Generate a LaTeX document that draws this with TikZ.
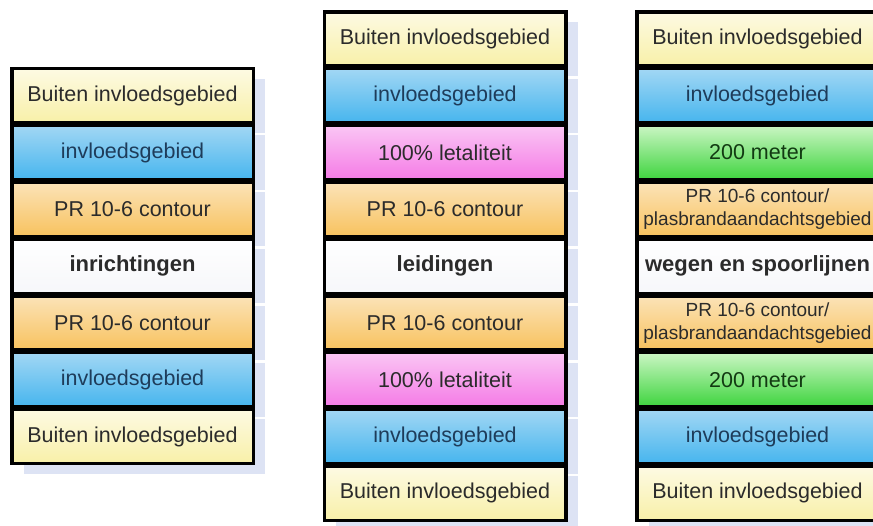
\documentclass[tikz,border=0pt]{standalone}
\usepackage{fontspec}
\setmainfont{Liberation Sans}
\usepackage{xcolor}
\usetikzlibrary{positioning, shadows}

\definecolor{buitenA}{HTML}{FDFAE3}
\definecolor{buitenB}{HTML}{F8F0A8}
\definecolor{blueA}{HTML}{A2D7F4}
\definecolor{blueB}{HTML}{46B5EE}
\definecolor{orangeA}{HTML}{FBE3B8}
\definecolor{orangeB}{HTML}{F8C25E}
\definecolor{pinkA}{HTML}{FAC6F4}
\definecolor{pinkB}{HTML}{F57BE6}
\definecolor{greenA}{HTML}{CBF6C4}
\definecolor{greenB}{HTML}{3ED43E}
\definecolor{whiteB}{HTML}{F6F7FA}
\definecolor{shadowblue}{HTML}{DDE3F4}
\definecolor{textgrey}{HTML}{2B2B2B}
\definecolor{textblue}{HTML}{1E3C5A}
\definecolor{textgreen}{HTML}{123A12}

\begin{document}
\begin{tikzpicture}[node distance=56.8pt,
  zone/.style={draw=black, line width=3.5pt, minimum width=241.5pt,
    minimum height=54.3pt, inner sep=0pt, outer sep=0pt, align=center,
    font=\fontsize{21.5}{25}\selectfont, text=textgrey,
    drop shadow={shadow xshift=12pt, shadow yshift=-10pt,
      fill=shadowblue, opacity=1}},
  buiten/.style={zone, top color=buitenA, bottom color=buitenB},
  invloed/.style={zone, top color=blueA, bottom color=blueB, text=textblue},
  contour/.style={zone, top color=orangeA, bottom color=orangeB},
  plasbrand/.style={contour, font=\fontsize{19}{23}\selectfont},
  letaal/.style={zone, top color=pinkA, bottom color=pinkB},
  meter/.style={zone, top color=greenA, bottom color=greenB, text=textgreen},
  object/.style={zone, top color=white, bottom color=whiteB,
    font=\fontsize{22}{25}\selectfont\bfseries}]
  \path[use as bounding box, clip] (0,0) rectangle (873pt,-525pt);

  \node[buiten] (l1) at (132.5pt,-95.7pt) {Buiten invloedsgebied};
  \node[invloed] (l2) [below of=l1] {invloedsgebied};
  \node[contour] (l3) [below of=l2] {PR 10-6 contour};
  \node[object] (l4) [below of=l3] {inrichtingen};
  \node[contour] (l5) [below of=l4] {PR 10-6 contour};
  \node[invloed] (l6) [below of=l5] {invloedsgebied};
  \node[buiten] (l7) [below of=l6] {Buiten invloedsgebied};

  \node[buiten] (m1) at (445pt,-38.9pt) {Buiten invloedsgebied};
  \node[invloed] (m2) [below of=m1] {invloedsgebied};
  \node[letaal] (m3) [below of=m2] {100\% letaliteit};
  \node[contour] (m4) [below of=m3] {PR 10-6 contour};
  \node[object] (m5) [below of=m4] {leidingen};
  \node[contour] (m6) [below of=m5] {PR 10-6 contour};
  \node[letaal] (m7) [below of=m6] {100\% letaliteit};
  \node[invloed] (m8) [below of=m7] {invloedsgebied};
  \node[buiten] (m9) [below of=m8] {Buiten invloedsgebied};

  \node[buiten] (r1) at (757.5pt,-38.9pt) {Buiten invloedsgebied};
  \node[invloed] (r2) [below of=r1] {invloedsgebied};
  \node[meter] (r3) [below of=r2] {200 meter};
  \node[plasbrand] (r4) [below of=r3] {PR 10-6 contour/\\plasbrandaandachtsgebied};
  \node[object] (r5) [below of=r4] {wegen en spoorlijnen};
  \node[plasbrand] (r6) [below of=r5] {PR 10-6 contour/\\plasbrandaandachtsgebied};
  \node[meter] (r7) [below of=r6] {200 meter};
  \node[invloed] (r8) [below of=r7] {invloedsgebied};
  \node[buiten] (r9) [below of=r8] {Buiten invloedsgebied};
\end{tikzpicture}
\end{document}
